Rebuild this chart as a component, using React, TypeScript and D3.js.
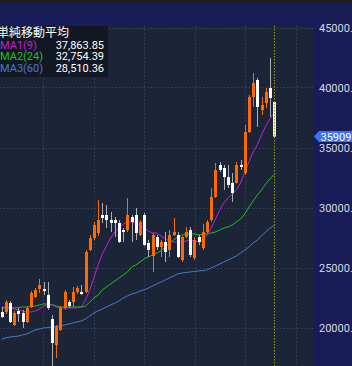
import React from 'react'
import * as d3 from 'd3'

// OHLC (orange = up, white = down)
const opens = [21292, 21292, 22042, 20209, 21375, 21209, 20459, 21709, 22542, 23209, 23209, 22709, 20709, 18542, 19792, 21625, 22125, 22125, 22959, 22959, 22959, 26459, 27459, 27875, 29375, 29375, 28959, 28959, 28709, 28125, 28125, 29209, 29375, 27709, 29375, 27042, 25959, 27542, 26709, 27125, 26459, 27709, 27709, 25625, 27542, 28125, 25792, 27542, 26625, 27959, 28959, 30875, 33542, 33292, 32542, 32042, 32042, 33542, 32875, 36292, 39209, 40625, 38125, 38709, 39959, 38792]
const highs = [21709, 22292, 22209, 21375, 21625, 21459, 21792, 23042, 23292, 24042, 23792, 23792, 21042, 20209, 21792, 23125, 22292, 23375, 23459, 23542, 26459, 27709, 28792, 30625, 30375, 30209, 29625, 29209, 28959, 28292, 30792, 29375, 29959, 28959, 29542, 27292, 27875, 27709, 27292, 27959, 28125, 29125, 27959, 27625, 28375, 28375, 27542, 27709, 28625, 28959, 31625, 33709, 33792, 33542, 33542, 32875, 33792, 33959, 36875, 39375, 41209, 40792, 39209, 39959, 42459, 38792]
const lows = [20792, 21125, 20375, 20125, 20459, 19959, 20375, 21625, 22459, 22875, 22709, 21459, 16792, 17459, 19709, 21459, 21625, 21709, 22792, 22709, 22875, 26375, 27292, 27625, 28709, 28292, 27959, 27542, 27042, 27125, 27959, 27125, 27292, 27625, 26792, 25875, 24625, 26459, 25875, 25459, 25875, 27625, 25792, 25459, 27459, 25875, 25625, 26875, 26459, 27875, 28792, 30792, 32959, 31459, 31625, 30459, 32000, 33125, 32709, 36209, 38375, 36709, 37709, 38292, 37542, 35909]
const closes = [20875, 22125, 20459, 21209, 21125, 20459, 21625, 22875, 23125, 23542, 23042, 21625, 18709, 20042, 21625, 22959, 21792, 22959, 23292, 22792, 26292, 27459, 28542, 28959, 29125, 28959, 28709, 28709, 27125, 27959, 29375, 28792, 27875, 28792, 26875, 26459, 27709, 26709, 27125, 26292, 27709, 27959, 25875, 27542, 27959, 26042, 27292, 27125, 27959, 28792, 30875, 33125, 33125, 32542, 31875, 31209, 33542, 33375, 36292, 39209, 40375, 38375, 38542, 39625, 39125, 35909]

// moving averages as drawn
const ma1 = [21710, 21710, 21630, 21540, 21460, 21380, 21290, 21290, 21380, 21540, 21790, 21880, 21880, 21710, 21630, 21630, 21630, 21630, 21630, 21710, 22290, 23130, 24130, 25210, 26130, 26790, 27460, 27960, 28290, 28630, 28790, 28790, 28710, 28540, 28290, 28040, 27880, 27880, 27630, 27380, 27210, 27130, 27130, 27130, 27210, 27290, 27210, 27130, 27290, 27710, 28290, 29040, 29790, 30380, 30790, 31130, 31460, 32040, 32960, 33790, 34630, 35210, 36040, 36790, 37380, 37864]
const ma2 = [21630, 21630, 21630, 21630, 21670, 21710, 21710, 21750, 21790, 21880, 21960, 21960, 21920, 21790, 21710, 21710, 21710, 21710, 21710, 21710, 21790, 22130, 22460, 22710, 23130, 23380, 23630, 23880, 24130, 24380, 24630, 25040, 25210, 25460, 25710, 25880, 26040, 26210, 26380, 26710, 27040, 27290, 27540, 27710, 27790, 27790, 27790, 27710, 27790, 27790, 27880, 27960, 28130, 28290, 28380, 28540, 28790, 29040, 29460, 30040, 30540, 31040, 31460, 31960, 32380, 32754]
const ma3 = [19040, 19130, 19210, 19250, 19290, 19380, 19460, 19630, 19790, 19880, 19960, 20000, 20040, 20080, 20130, 20210, 20290, 20380, 20460, 20540, 20710, 20960, 21210, 21380, 21540, 21710, 21880, 22040, 22210, 22460, 22630, 22790, 22880, 23040, 23130, 23290, 23460, 23630, 23790, 23960, 24130, 24290, 24460, 24540, 24580, 24630, 24670, 24710, 24750, 24790, 24960, 25130, 25290, 25460, 25630, 25790, 25960, 26210, 26460, 26710, 27040, 27290, 27630, 27960, 28290, 28510]

const priceTicks = [20000, 25000, 30000, 35000, 40000, 45000]
const maNames = ['MA1(9)', 'MA2(24)', 'MA3(60)']
const maValues = ['37,863.85', '32,754.39', '28,510.36']
const maColors = ['#c21fd2', '#1fbf1f', '#4c78c8']
const lastPrice = '35909'

const W = 352
const H = 366
const plotTop = 26
const plotRight = 314

export default function App() {
  const n = closes.length
  const x = d3.scaleLinear().domain([0, n - 1]).range([1.7, 274.1])
  const y = d3.scaleLinear().domain([20000, 45000]).range([327.5, 27.5])
  const vGrid = [43, 93.5, 144, 194.5, 245, 295.5]

  const line = d3.line<number>()
    .x((_, i) => x(i))
    .y(d => y(d))

  const bw = 3
  const lastY = y(+lastPrice)

  return (
    <svg width={W} height={H} style={{ position: 'absolute', left: 0, top: 0, fontFamily: 'Roboto, "Noto Sans CJK JP", sans-serif' }}>
      <rect width={W} height={H} fill="#181c57" />
      <rect width={W} height={3} fill="#1d1d22" />
      <rect x={0} y={plotTop} width={plotRight} height={H - plotTop} fill="#1b2537" />

      {priceTicks.map(t => (
        <line key={t} x1={0} x2={plotRight} y1={Math.round(y(t)) + 0.5} y2={Math.round(y(t)) + 0.5}
          stroke="#34425e" strokeDasharray="1.5,2" />
      ))}
      {vGrid.map(v => (
        <line key={v} x1={Math.round(v) + 0.5} x2={Math.round(v) + 0.5} y1={plotTop} y2={H}
          stroke="#34425e" strokeDasharray="1.5,2" />
      ))}

      <path d={line(ma3) || ''} fill="none" stroke={maColors[2]} strokeWidth={1} />
      <path d={line(ma2) || ''} fill="none" stroke={maColors[1]} strokeWidth={1} />
      <path d={line(ma1) || ''} fill="none" stroke={maColors[0]} strokeWidth={1} />

      {closes.map((c, i) => {
        const o = opens[i]
        const up = c >= o
        const last = i === n - 1
        const cx = Math.round(x(i))
        const top = y(Math.max(o, c))
        const bot = y(Math.min(o, c))
        const body = up ? '#ff6a00' : (last ? '#fbf8e0' : '#ffffff')
        const wick = up ? '#ff6a00' : '#a9adb5'
        return (
          <g key={i}>
            <line x1={cx + 0.5} x2={cx + 0.5} y1={y(highs[i])} y2={y(lows[i])} stroke={wick} />
            <rect x={cx - 1} y={top} width={bw} height={Math.max(1, bot - top)} fill={body} />
          </g>
        )
      })}

      <line x1={274.5} x2={274.5} y1={plotTop} y2={H} stroke="#9a9a1e" strokeDasharray="1.5,1.5" />

      <rect x={plotRight} y={plotTop} width={W - plotRight} height={H - plotTop} fill="#181c57" />
      {priceTicks.map(t => (
        <text key={t} x={319} y={y(t) + 4} fill="#d8d8e0" fontSize={11}>{t.toFixed(1)}</text>
      ))}

      <path d={`M${plotRight},${lastY} L${plotRight + 5},${lastY - 5.5} H${W} V${lastY + 5.5} H${plotRight + 5} Z`} fill="#3b72f0" />
      <text x={320.5} y={lastY + 4} fill="#ffffff" fontSize={11}>{lastPrice}</text>

      <rect x={0} y={plotTop} width={108} height={51} fill="#111824" />
      <text x={-3} y={37} fill="#ffffff" fontSize={12} fontFamily='"Noto Sans CJK JP", sans-serif'>単純移動平均</text>
      {maNames.map((m, i) => (
        <g key={m}>
          <text x={0} y={48.5 + i * 11.5} fill={maColors[i]} fontSize={11}>{m}</text>
          <text x={104} y={48.5 + i * 11.5} fill="#ffffff" fontSize={11} textAnchor="end">{maValues[i]}</text>
        </g>
      ))}
    </svg>
  )
}
